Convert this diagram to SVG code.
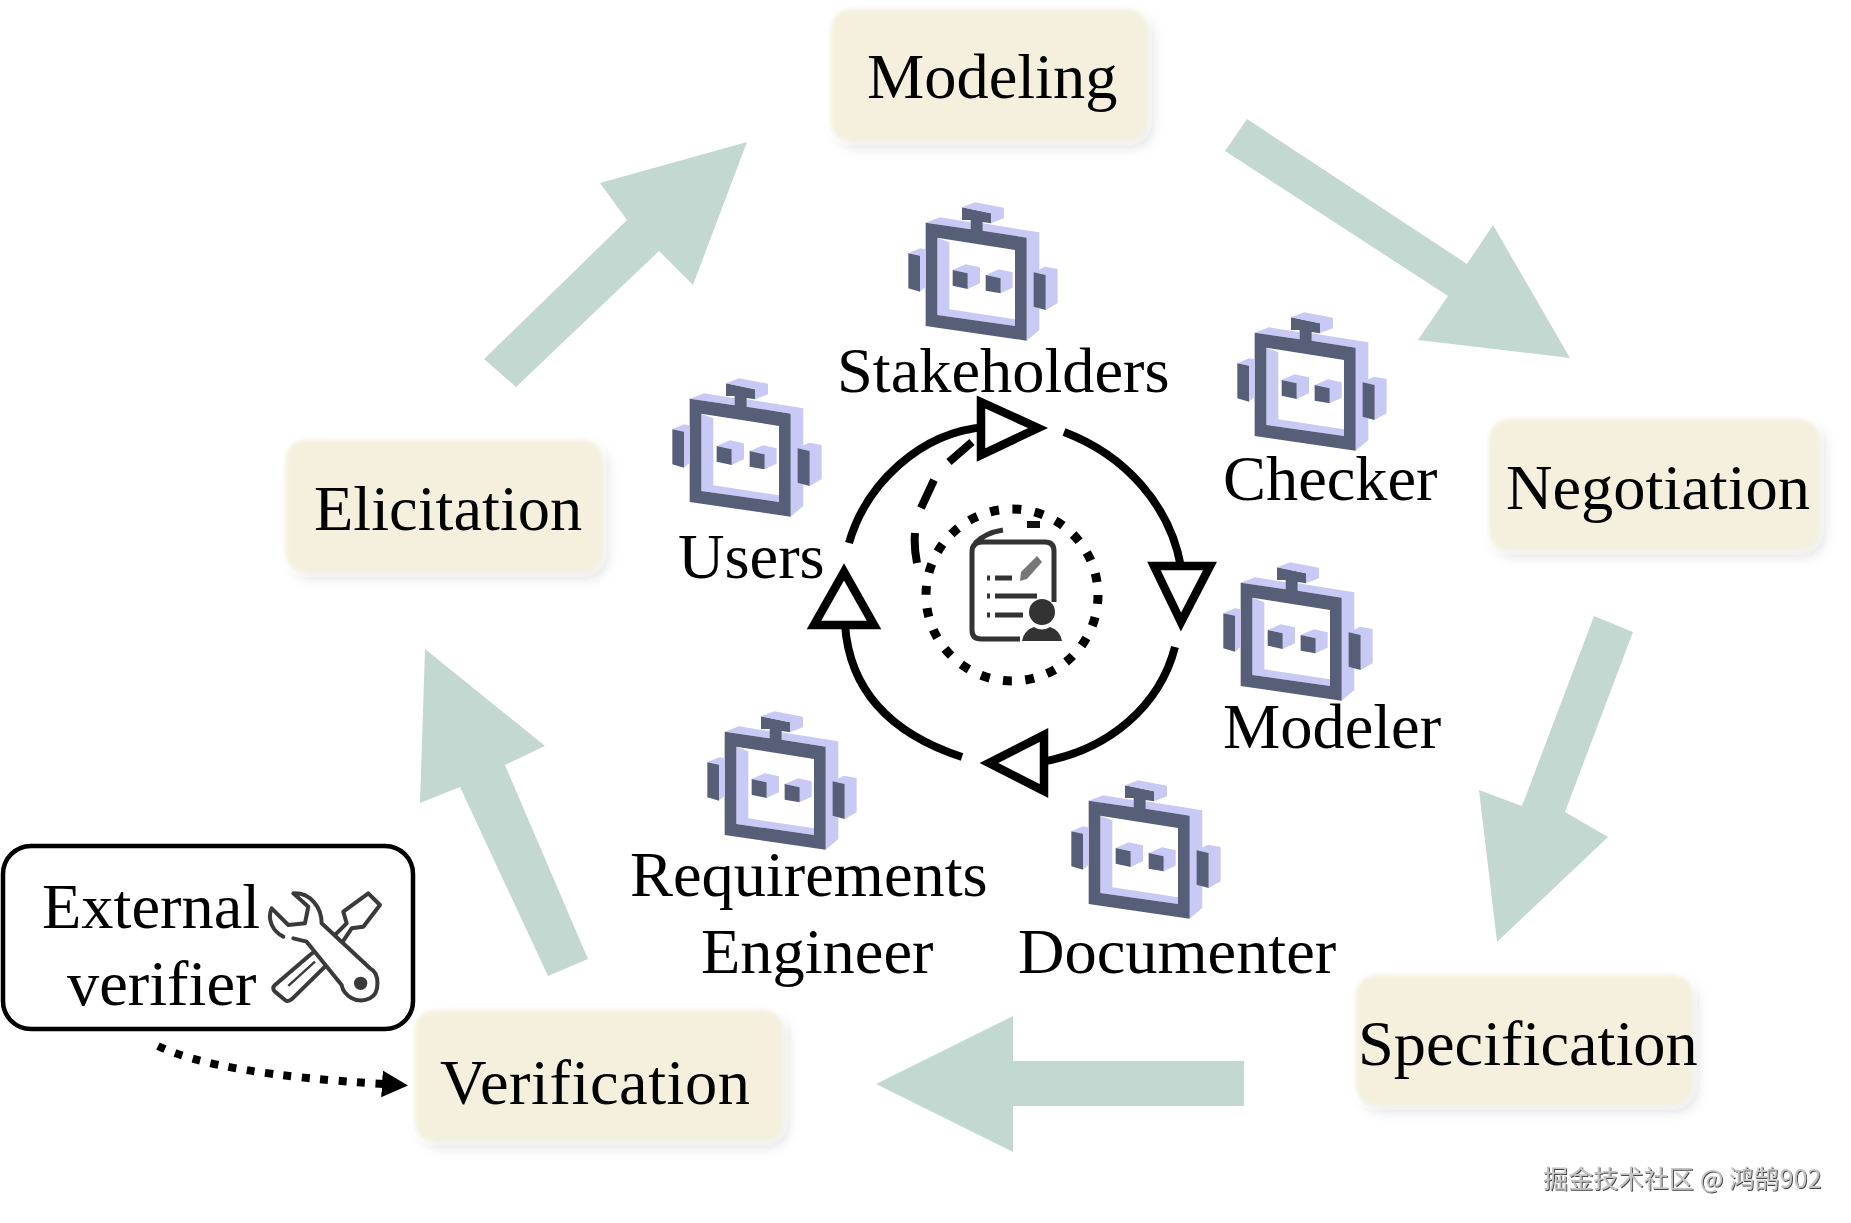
<svg xmlns="http://www.w3.org/2000/svg" width="1851" height="1223" viewBox="0 0 1851 1223">
<style>
.t{font-family:"Liberation Serif","Times New Roman",serif;font-size:64.4px;fill:#000}
.b{fill:#f4f0dd;filter:url(#sh)}
.a{fill:#c4d8d2}
.d{fill:#565e78}
.l{fill:#c9c9f6}
.r{fill:none;stroke:#000;stroke-width:8}
.h{fill:#fff;stroke:#000;stroke-width:8.5;stroke-miterlimit:10}
.k{fill:none;stroke:#333;stroke-width:5}
.w{fill:#fff;stroke:#3a3a3a;stroke-width:12;stroke-linejoin:round;stroke-linecap:round}
.n{fill:none;stroke:#3a3a3a;stroke-width:12;stroke-linejoin:round;stroke-linecap:round}
</style>
<defs>
<filter id="sh" x="-10%" y="-15%" width="125%" height="135%"><feGaussianBlur in="SourceGraphic" stdDeviation="2" result="s"/><feDropShadow in="s" dx="5" dy="6" stdDeviation="6" flood-color="#000" flood-opacity="0.13"/></filter>
<filter id="wm" x="-5%" y="-20%" width="110%" height="140%"><feDropShadow dx="1" dy="1" stdDeviation="0.6" flood-color="#333" flood-opacity="0.9"/></filter>
<marker id="ah" markerUnits="userSpaceOnUse" markerWidth="28" markerHeight="28" refX="2" refY="13.5" orient="auto"><path d="M0,0L26,13.5L0,27Z" fill="#000"/></marker>
<g id="robot" transform="scale(0.3333)">
<path class="l" d="M137,98L180,82L272,97V118L137,98ZM308,100L478,127V420L440,452V143L308,122ZM172,143L208,157V358L405,388V408L172,375Z"/>
<path class="d" d="M137,98L272,118V90L246,90V52L333,70V100L308,96V122L440,143V452L137,408ZM172,143V375L405,408V180Z"/>
<path class="l" d="M246,52L285,37L372,53V85L333,100V70Z"/>
<path class="l" d="M85,190L120,175L137,178V290L120,305V197Z"/><path class="d" d="M85,190L120,197V305L85,295Z"/>
<path class="l" d="M461,247L495,230L533,237V340L497,360V255Z"/><path class="d" d="M461,247L497,255V360L461,350Z"/>
<path class="l" d="M218,240L257,223L300,232V280L263,297V250Z"/><path class="d" d="M218,240L263,250V297L218,287Z"/>
<path class="l" d="M317,255L357,238L398,247V293L362,310V265Z"/><path class="d" d="M317,255L362,265V310L317,302Z"/>
</g>
</defs>
<rect width="1851" height="1223" fill="#fff"/>
<g id="connectors">
<polygon class="a" points="484,359 627,220 600,183 747,142 693,285 659,251 516,387"/>
<polygon class="a" points="1247,119 1225,151 1448,296 1418,340 1570,358 1493,225 1467,264"/>
<polygon class="a" points="1594,616 1633,632 1565,812 1608,837 1497,942 1479,790 1522,806"/>
<polygon class="a" points="1244,1061 1013,1061 1013,1016 876,1084 1013,1152 1013,1106 1244,1106"/>
<polygon class="a" points="588,959 548,976 460,787 420,803 425,649 545,746 505,765"/>
<path d="M158,1046Q215,1074 384,1084" fill="none" stroke="#000" stroke-width="8" stroke-dasharray="8 10.5" marker-end="url(#ah)"/>
</g>
<g id="node-modeling"><rect class="b" x="831" y="9" width="316" height="132" rx="20"/><text class="t" x="867" y="98">Modeling</text></g>
<g id="node-negotiation"><rect class="b" x="1489" y="419" width="330" height="131" rx="20"/><text class="t" x="1506" y="509">Negotiation</text></g>
<g id="node-specification"><rect class="b" x="1356" y="975" width="336" height="130" rx="20"/><text class="t" x="1358" y="1065">Specification</text></g>
<g id="node-verification"><rect class="b" x="415" y="1010" width="368" height="131" rx="20"/><text class="t" x="440" y="1104" letter-spacing="0.55">Verification</text></g>
<g id="node-elicitation"><rect class="b" x="286" y="440" width="316" height="132" rx="20"/><text class="t" x="314" y="530">Elicitation</text></g>
<g id="node-stakeholders"><g transform="translate(880,190)"><use href="#robot"/></g><text class="t" x="837" y="392">Stakeholders</text></g>
<g id="node-checker"><g transform="translate(1209,300)"><use href="#robot"/></g><text class="t" x="1223" y="500">Checker</text></g>
<g id="node-users"><g transform="translate(644,366)"><use href="#robot"/></g><text class="t" x="678" y="578">Users</text></g>
<g id="node-modeler"><g transform="translate(1195,550)"><use href="#robot"/></g><text class="t" x="1223" y="748">Modeler</text></g>
<g id="node-requirements-engineer"><g transform="translate(679,699)"><use href="#robot"/></g><text class="t" x="630" y="896">Requirements</text><text class="t" x="701" y="973">Engineer</text></g>
<g id="node-documenter"><g transform="translate(1043,768)"><use href="#robot"/></g><text class="t" x="1018" y="973">Documenter</text></g>
<g id="cycle">
<path class="r" d="M849,543C866,484 920,432 986,427"/>
<path class="r" d="M1064,432C1125,455 1170,505 1181,567"/>
<path class="r" d="M1175,647C1160,705 1110,750 1041,762"/>
<path class="r" d="M962,757C895,735 850,695 845,625"/>
<polygon class="h" points="981,402 1038,428 981,455"/>
<polygon class="h" points="1154,566 1210,566 1181,622"/>
<polygon class="h" points="1044,735 1044,791 989,763"/>
<polygon class="h" points="844,572 814,625 874,625"/>
<path class="r" d="M949,462L972,442M921,508L934,480M915,533C914,545 915,553 917,563"/>
<circle cx="1012" cy="595" r="86" fill="none" stroke="#000" stroke-width="9" stroke-dasharray="9 13.5"/>
<rect x="1027" y="521" width="13" height="7" fill="#111"/>
</g>
<g id="document-icon">
<path class="k" d="M1054,602V551Q1054,542 1045,542H982Q972,542 972,552V630Q972,639 981,639H1020M975,543Q985,533 1003,530"/>
<path class="k" d="M987,578h3M995,578h17M987,596h3M995,596h42M987,615h3M995,615h28"/>
<path d="M1021,572L1037,556L1042,562L1027,579L1020,581Z" fill="#777"/>
<circle cx="1042" cy="612" r="13" fill="#333"/>
<path d="M1022,641Q1024,630 1034,627Q1042,632 1050,627Q1060,630 1062,641Z" fill="#333"/>
</g>
<g id="node-external-verifier">
<rect x="3" y="846" width="410" height="183" rx="28" fill="#fff" stroke="#000" stroke-width="4.5"/>
<text class="t" x="42" y="928">External</text>
<text class="t" x="67" y="1005">verifier</text>
<g transform="translate(0,830) scale(0.3333)">
<path class="w" d="M1000,320L1040,280L1030,245L1105,190L1140,225L1090,290L1055,295L985,400L878,505Q865,518 855,510L825,485Q815,475 825,465L930,375Z"/>
<path d="M865,468L945,395" fill="none" stroke="#3a3a3a" stroke-width="7"/>
<path fill="#fff" d="M885,190C930,190 965,230 965,280L1110,415C1140,430 1140,490 1110,505C1070,525 1030,495 1025,465L920,335L850,320C820,305 800,270 815,235L865,285L915,280L925,230Z"/>
<path class="n" d="M885,190C930,190 965,230 965,280L1110,415C1140,430 1140,490 1110,505C1070,525 1030,495 1025,465L920,335L880,325M850,320C820,305 800,270 815,235L865,285L915,280L925,230L880,190"/>
<circle cx="1082" cy="460" r="20" fill="#3a3a3a"/>
</g>
</g>
<text x="1543" y="1188" font-family="'Noto Sans CJK SC','Noto Sans',sans-serif" font-size="25" letter-spacing="0.15" fill="#c4c4c4" filter="url(#wm)">掘金技术社区 @ 鸿鹄902</text>
</svg>
